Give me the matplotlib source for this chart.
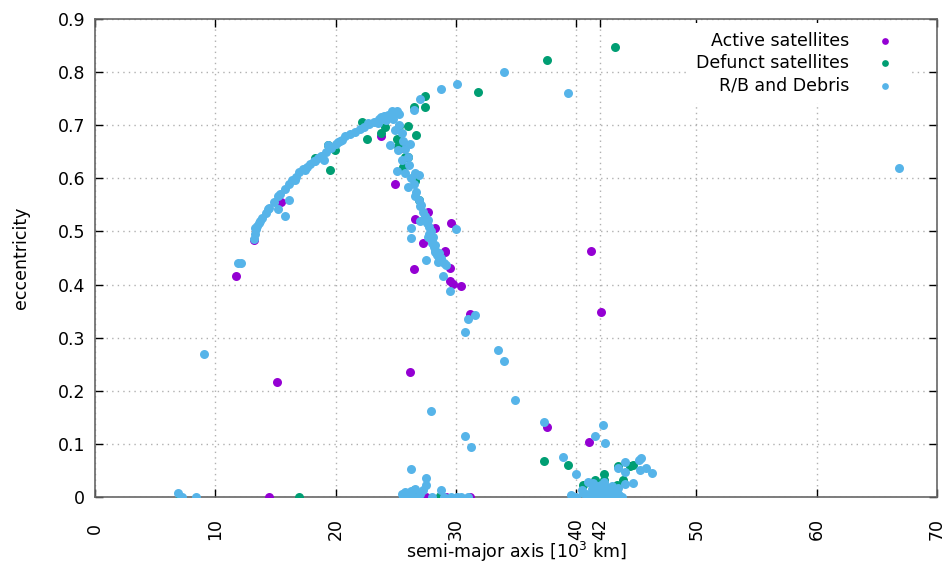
import matplotlib.pyplot as plt

# semi-major axis [10^3 km] and eccentricity
active_a = [11.7, 13.2, 14.5, 15.1, 15.5, 23.8, 24.9, 25.5, 26.2, 26.5, 26.6, 27.3,
            27.5, 27.7, 28.3, 28.7, 29.1, 29.1, 29.2, 29.5, 29.5, 29.6, 29.8, 30.4,
            31.2, 31.2, 37.55, 41.1, 41.2, 42.1]
active_e = [0.417, 0.483, 0.0, 0.216, 0.556, 0.679, 0.589, 0.657, 0.235, 0.430, 0.524, 0.478,
            0.0, 0.537, 0.506, 0.0, 0.462, 0.463, 0.0, 0.432, 0.407, 0.515, 0.402, 0.398,
            0.344, 0.0, 0.131, 0.104, 0.463, 0.349]

defunct_a = [7.07, 17.0, 18.3, 19.4, 19.5, 19.95, 22.2, 22.6, 23.8, 24.1, 25.1, 25.2,
             25.3, 25.6, 25.8, 26.0, 26.0, 26.5, 26.5, 26.6, 26.7, 26.9, 27.4, 27.4,
             28.7, 31.8, 37.3, 37.55, 39.35, 40.6, 41.6, 42.0, 42.3, 42.3, 43.1, 43.2,
             43.4, 43.5, 43.9, 44.5, 44.75]
defunct_e = [0.0, 0.0, 0.638, 0.663, 0.616, 0.653, 0.707, 0.674, 0.685, 0.697, 0.675, 0.660,
             0.699, 0.622, 0.641, 0.641, 0.699, 0.734, 0.013, 0.595, 0.682, 0.559, 0.755, 0.734,
             0.002, 0.763, 0.067, 0.822, 0.060, 0.023, 0.032, 0.004, 0.043, 0.032, 0.0, 0.847,
             0.023, 0.058, 0.032, 0.058, 0.060]

debris_a = [6.93, 7.2, 8.4, 9.06, 11.9, 12.1,
            13.2, 13.3, 13.3, 13.4, 13.5, 13.6, 13.7, 13.9, 14.2, 14.4, 14.5, 14.9, 15.2,
            15.2, 15.4, 15.8, 15.8, 16.1, 16.1, 16.4, 16.6, 16.7, 17.0, 17.3, 17.5, 17.6,
            17.9, 18.2, 18.3, 18.5, 18.8, 19.0, 19.2, 19.4, 19.6, 20.0, 20.2, 20.4, 20.5,
            20.8, 21.2, 21.6, 22.0, 22.4, 22.7, 22.8, 23.2, 23.5, 23.6, 23.8, 24.0, 24.2,
            24.4, 24.5, 24.7, 24.8, 25.0, 25.1, 25.3,
            24.9, 25.2, 25.3, 25.5, 25.5, 25.6, 25.8, 25.8, 26.0, 26.0, 26.1, 25.1, 26.2,
            26.3, 26.5, 26.6, 26.6, 26.7, 26.9, 26.9, 27.0, 27.0, 27.1, 27.3, 27.4, 27.6,
            27.7, 27.8, 27.9, 26.3, 26.3, 27.7, 28.0, 28.1, 28.3, 28.3, 28.3, 28.5, 28.6,
            28.8, 28.9, 29.0, 29.2, 29.5, 27.5, 30.0, 26.5, 27.0, 28.8, 30.1, 34.0,
            31.0, 31.6, 30.8, 33.5, 34.0, 34.9, 27.9, 30.8, 31.3, 39.3, 66.8,
            37.3, 38.9, 40.0, 41.6, 42.2, 42.4, 44.1, 43.5, 44.1, 45.2, 45.4, 45.8, 46.3,
            45.3, 44.75, 44.1, 40.5, 41.0, 39.6, 40.0,
            40.6, 40.8, 41.0, 41.2, 41.3, 41.4, 41.5, 41.7, 41.8, 42.0, 42.0, 42.1, 42.2,
            42.3, 42.4, 42.5, 42.6, 42.8, 43.0, 43.0, 43.0, 43.2, 43.4, 43.5, 43.6, 43.8,
            25.5, 25.6, 25.8, 25.9, 26.0, 26.3, 26.3, 26.5, 26.6, 27.0, 27.3, 27.5, 27.5,
            28.0, 28.8, 29.0, 29.6, 30.1, 30.4, 31.0,
            27.8, 28.0, 28.2, 28.4, 28.6]
debris_e = [0.008, 0.0, 0.0, 0.269, 0.441, 0.440,
            0.485, 0.495, 0.506, 0.505, 0.510, 0.515, 0.520, 0.525, 0.535, 0.542, 0.545, 0.555, 0.566,
            0.542, 0.570, 0.580, 0.529, 0.590, 0.560, 0.597, 0.597, 0.603, 0.612, 0.617, 0.616, 0.622,
            0.627, 0.633, 0.632, 0.638, 0.643, 0.635, 0.650, 0.662, 0.658, 0.664, 0.669, 0.670, 0.672,
            0.679, 0.683, 0.688, 0.692, 0.697, 0.704, 0.702, 0.707, 0.705, 0.712, 0.716, 0.717, 0.710,
            0.720, 0.663, 0.726, 0.712, 0.724, 0.726, 0.722,
            0.691, 0.653, 0.700, 0.635, 0.685, 0.670, 0.610, 0.655, 0.640, 0.584, 0.625, 0.613, 0.665,
            0.600, 0.590, 0.610, 0.566, 0.575, 0.606, 0.560, 0.547, 0.519, 0.550, 0.537, 0.530, 0.515,
            0.522, 0.509, 0.500, 0.506, 0.487, 0.490, 0.478, 0.490, 0.465, 0.462, 0.475, 0.443, 0.460,
            0.450, 0.417, 0.440, 0.436, 0.387, 0.446, 0.504, 0.729, 0.750, 0.768, 0.778, 0.801,
            0.336, 0.342, 0.311, 0.277, 0.256, 0.183, 0.161, 0.114, 0.095, 0.761, 0.619,
            0.141, 0.076, 0.043, 0.114, 0.136, 0.101, 0.065, 0.054, 0.048, 0.070, 0.073, 0.054, 0.046,
            0.051, 0.027, 0.024, 0.013, 0.029, 0.004, 0.0,
            0.008, 0.005, 0.0, 0.002, 0.015, 0.026, 0.008, 0.020, 0.003, 0.010, 0.0, 0.022, 0.004,
            0.028, 0.015, 0.018, 0.006, 0.002, 0.012, 0.020, 0.0, 0.005, 0.010, 0.017, 0.003, 0.0,
            0.005, 0.0, 0.010, 0.008, 0.005, 0.012, 0.052, 0.0, 0.015, 0.005, 0.013, 0.022, 0.035,
            0.0, 0.013, 0.0, 0.0, 0.0, 0.0, 0.0,
            0.495, 0.485, 0.470, 0.455, 0.448]

x_ticks = [0, 10, 20, 30, 40, 42, 50, 60, 70]
y_ticks = [0, 0.1, 0.2, 0.3, 0.4, 0.5, 0.6, 0.7, 0.8, 0.9]

fig = plt.figure(figsize=(9.43, 5.68), dpi=100)
ax = fig.add_axes([0.1007, 0.125, 0.893, 0.8415])

ax.scatter(active_a, active_e, s=42, color='#9400D3', lw=0, label='Active satellites', zorder=3)
ax.scatter(defunct_a, defunct_e, s=42, color='#009E73', lw=0, label='Defunct satellites', zorder=3)
ax.scatter(debris_a, debris_e, s=42, color='#56B4E9', lw=0, label='R/B and Debris', zorder=3)

ax.set_xlim(0, 70)
ax.set_ylim(0, 0.9)
ax.set_xticks(x_ticks)
ax.set_xticklabels([str(t) for t in x_ticks], rotation=90, va='center')
ax.set_yticks(y_ticks)
ax.set_yticklabels(['0'] + ['%.1f' % t for t in y_ticks[1:]])
ax.tick_params(direction='in', length=6, width=1, top=True, right=True,
               labelsize=12.5, color='black')
ax.tick_params(axis='x', pad=23)
ax.tick_params(axis='y', pad=7)
ax.grid(True, color='#b0b0b0', linestyle=(0, (1, 3)), lw=1)
ax.set_axisbelow(True)
for sp in ax.spines.values():
    sp.set_color('#666666')
    sp.set_linewidth(1.2)

ax.set_xlabel(r'semi-major axis [10$^3$ km]', fontsize=12.5, labelpad=0)
ax.set_ylabel('eccentricity', fontsize=12.5, labelpad=20)

leg = ax.legend(loc='upper right', bbox_to_anchor=(0.98, 1.01), markerfirst=False,
                fontsize=12.5, markerscale=0.75, handlelength=2, handletextpad=1.1,
                labelspacing=0.25, borderpad=0.5, frameon=True, fancybox=False)
leg.get_frame().set_facecolor('white')
leg.get_frame().set_edgecolor('none')
leg.get_frame().set_alpha(1)

fig.savefig('out.png', dpi=100)
